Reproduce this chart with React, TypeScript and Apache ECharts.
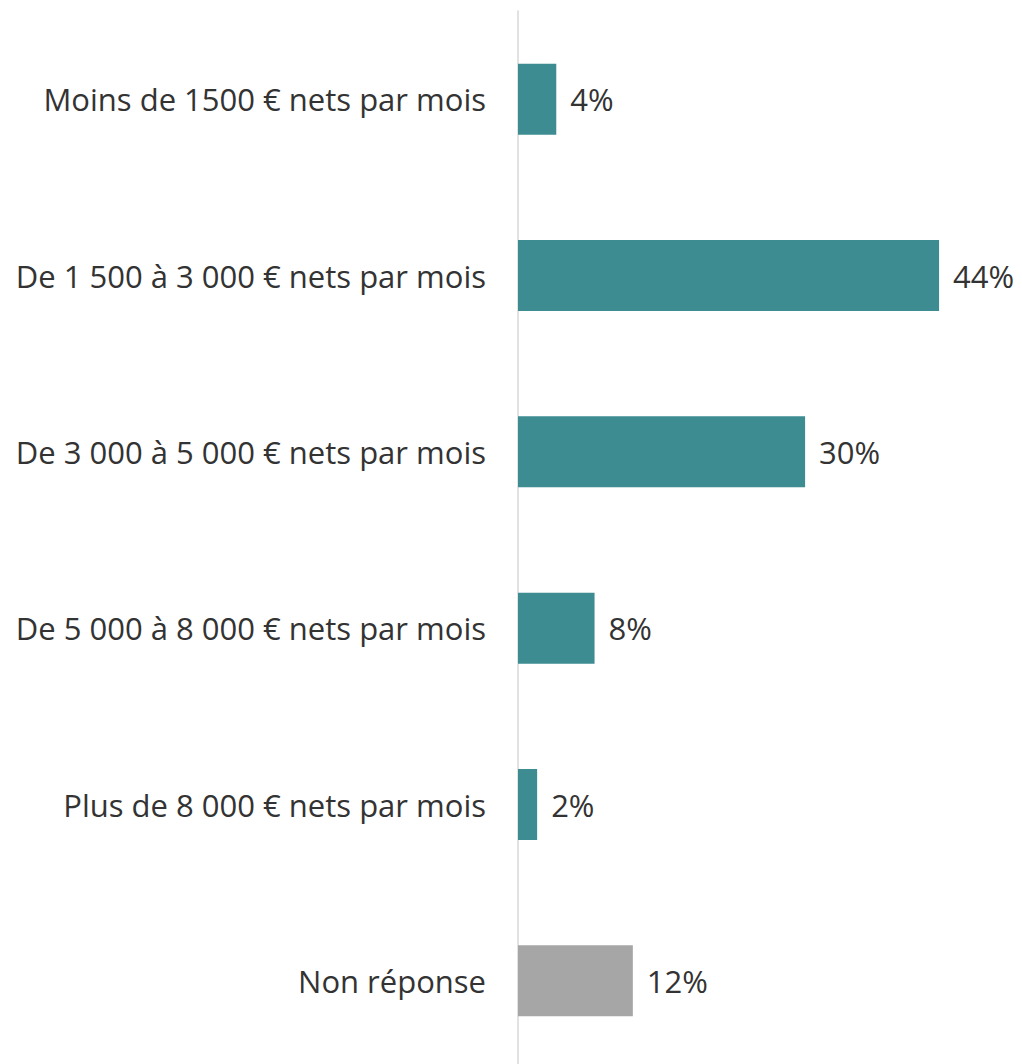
import React, { useEffect, useRef } from "react";
import * as echarts from "echarts";

const categories = [
  "Moins de 1500 € nets par mois",
  "De 1 500 à 3 000 € nets par mois",
  "De 3 000 à 5 000 € nets par mois",
  "De 5 000 à 8 000 € nets par mois",
  "Plus de 8 000 € nets par mois",
  "Non réponse",
];
const values = [4, 44, 30, 8, 2, 12];
const colors = ["#3d8c91", "#3d8c91", "#3d8c91", "#3d8c91", "#3d8c91", "#a6a6a6"];

export default function App() {
  const ref = useRef<HTMLDivElement>(null);
  useEffect(() => {
    if (!ref.current) return;
    const chart = echarts.init(ref.current, undefined, { renderer: "svg" });
    chart.setOption({
      animation: false,
      backgroundColor: "#ffffff",
      grid: { left: 518, right: 25.5, top: 11, height: 1058, containLabel: false },
      xAxis: {
        type: "value",
        min: 0,
        max: 50,
        show: false,
      },
      yAxis: {
        type: "category",
        data: categories,
        inverse: true,
        axisLine: { show: true, lineStyle: { color: "#d9d9d9", width: 1.5 } },
        axisTick: { show: false },
        axisLabel: {
          margin: 32,
          fontFamily: "Open Sans",
          fontSize: 31,
          color: "#333333",
        },
      },
      series: [
        {
          type: "bar",
          data: values.map((v, i) => ({ value: v, itemStyle: { color: colors[i] } })),
          barWidth: 71,
          label: {
            show: true,
            position: "right",
            distance: 14,
            formatter: "{c}%",
            fontFamily: "Open Sans",
            fontSize: 31,
            color: "#333333",
          },
        },
      ],
    });
    return () => chart.dispose();
  }, []);
  return (
    <div
      ref={ref}
      style={{ position: "fixed", left: 0, top: 0, width: 1022, height: 1080, background: "#fff" }}
    />
  );
}
